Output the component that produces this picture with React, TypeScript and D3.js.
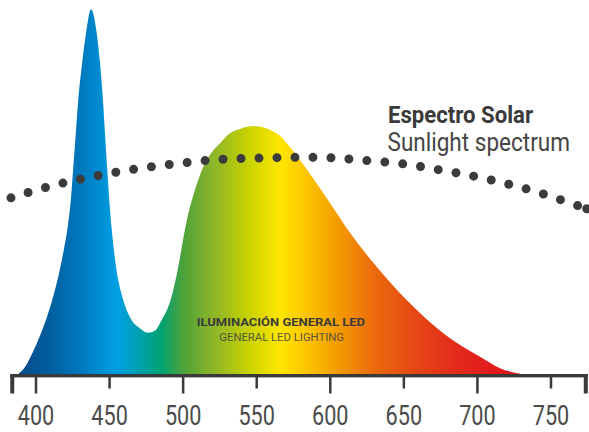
import React from 'react';
import * as d3 from 'd3';

// LED spectrum (relative intensity, peak = 100)
const ledWavelengths = [388, 392.5, 398.2, 402.7, 407.5, 410.9, 413.6, 416.3, 419, 421.7, 423.8, 425.3, 427, 428.7, 431.1, 434, 437.4, 441.3, 443.7, 445.5, 446.9, 448.3, 449.8, 451.7, 454.4, 459.3, 465, 470.7, 476.3, 480.9, 485.4, 491.5, 496.7, 499.9, 503.3, 507.4, 513.7, 519.6, 525.1, 531.8, 540, 547.7, 563.6, 570.4, 579.4, 598.4, 613.4, 631.5, 651.9, 676.8, 701.8, 715.3, 730];
const ledValues = [0, 1.9, 6.3, 10.5, 15.7, 20.1, 24.1, 28.8, 34.3, 40.8, 48.3, 56.5, 65.7, 75, 84.3, 93.4, 100, 93.4, 84.3, 75.1, 66, 56.8, 47.7, 38.7, 29.4, 20.3, 14.8, 12.5, 11.3, 11.9, 14.8, 20.3, 29.4, 36.7, 43.6, 49.6, 56.8, 60.9, 63.3, 66, 67.4, 68, 66, 63.3, 58.7, 47.7, 38.7, 29.4, 20.3, 11.2, 4.7, 1.6, 0];

// Sunlight spectrum (same relative scale)
const solarWavelengths = [383, 406.1, 429.9, 453.9, 478.2, 502.6, 527.1, 551.4, 576, 600.3, 625.2, 649.6, 673.9, 697.9, 721.7, 745.3, 768.6, 774.3];
const solarValues = [48.3, 51.1, 53.4, 55.3, 56.8, 58, 58.9, 59.2, 59.4, 59.3, 58.5, 57.6, 56, 54.2, 52, 49.3, 46.1, 45.3];

const tickValues = [400, 450, 500, 550, 600, 650, 700, 750];
const tickLabels = ['400', '450', '500', '550', '600', '650', '700', '750'];
const majorTicks = [400, 500, 600, 700];
const axisExtent = [382.5, 775];

const gradientWavelengths = [385, 410, 430, 455, 468, 485, 500, 520, 545, 566, 585, 606, 630, 660, 690, 720];
const gradientColors = ['#0b4686', '#005f9f', '#0078bd', '#009fe3', '#00a0b8', '#00a374', '#4ea13a', '#8cb52a', '#c9d300', '#ffe600', '#fcc200', '#f39a00', '#ec6a0d', '#e64515', '#e3281c', '#e0141c'];

const W = 589;
const H = 432;

export default function App() {
  const x = d3.scaleLinear().domain([400, 750]).range([36, 551]);
  const y = d3.scaleLinear().domain([0, 100]).range([374, 9.3]);

  const led = ledWavelengths.map((w, i) => ({ w, v: ledValues[i] }));
  const solar = solarWavelengths.map((w, i) => ({ w, v: solarValues[i] }));

  const area = d3
    .area<{ w: number; v: number }>()
    .x((d) => x(d.w))
    .y0(y(0))
    .y1((d) => y(d.v))
    .curve(d3.curveMonotoneX);

  const line = d3
    .line<{ w: number; v: number }>()
    .x((d) => x(d.w))
    .y((d) => y(d.v))
    .curve(d3.curveCatmullRom);

  const gx1 = x(gradientWavelengths[0]);
  const gx2 = x(gradientWavelengths[gradientWavelengths.length - 1]);
  const last = solar[solar.length - 1];

  const axisY = 374;
  const axisColor = '#3a3a3a';
  const font = 'Roboto, "DejaVu Sans", sans-serif';

  return (
    <svg width={W} height={H} style={{ position: 'absolute', left: 0, top: 0, background: '#fff' }}>
      <defs>
        <linearGradient id="spec" gradientUnits="userSpaceOnUse" x1={gx1} x2={gx2} y1={0} y2={0}>
          {gradientWavelengths.map((w, i) => (
            <stop key={i} offset={(x(w) - gx1) / (gx2 - gx1)} stopColor={gradientColors[i]} />
          ))}
        </linearGradient>
        <clipPath id="plotClip">
          <rect x={0} y={0} width={W} height={y(0)} />
        </clipPath>
      </defs>

      <path d={area(led) || ''} fill="url(#spec)" clipPath="url(#plotClip)" />

      <path
        d={line(solar) || ''}
        fill="none"
        stroke="#3b3b3b"
        strokeWidth={9}
        strokeLinecap="round"
        strokeDasharray="0 18"
      />
      <circle cx={x(last.w)} cy={y(last.v)} r={4.5} fill="#3b3b3b" />

      {/* axis */}
      <rect x={x(axisExtent[0])} y={axisY} width={x(axisExtent[1]) - x(axisExtent[0])} height={3.4} fill={axisColor} />
      <rect x={x(axisExtent[0])} y={axisY} width={4} height={19.5} fill={axisColor} />
      <rect x={x(axisExtent[1]) - 4} y={axisY} width={4} height={19.5} fill={axisColor} />
      {tickValues.map((t) => (
        <rect
          key={t}
          x={x(t) - 1.25}
          y={axisY}
          width={2.5}
          height={majorTicks.includes(t) ? 19.5 : 14.5}
          fill={axisColor}
        />
      ))}
      {tickValues.map((t, i) => (
        <text
          key={'l' + t}
          x={x(t)}
          y={424.8}
          textAnchor="middle"
          fontFamily={font}
          fontSize={27}
          fill="#4b4b4b"
          textLength={36.5}
          lengthAdjust="spacingAndGlyphs"
        >
          {tickLabels[i]}
        </text>
      ))}

      {/* legend labels */}
      <text x={388} y={123.3} fontFamily={font} fontWeight={700} fontSize={24} fill="#3a3a3a" textLength={145} lengthAdjust="spacingAndGlyphs">
        Espectro Solar
      </text>
      <text x={387.5} y={150.7} fontFamily={font} fontWeight={400} fontSize={25} fill="#454545" textLength={182.5} lengthAdjust="spacingAndGlyphs">
        Sunlight spectrum
      </text>

      <text x={196.7} y={326} fontFamily={font} fontWeight={700} fontSize={11.8} fill="#3a3a3a" textLength={168.3} lengthAdjust="spacingAndGlyphs">
        ILUMINACIÓN GENERAL LED
      </text>
      <text x={219.3} y={341} fontFamily={font} fontWeight={400} fontSize={11.8} fill="#444444" fillOpacity={0.9} textLength={124.7} lengthAdjust="spacingAndGlyphs">
        GENERAL LED LIGHTING
      </text>
    </svg>
  );
}
